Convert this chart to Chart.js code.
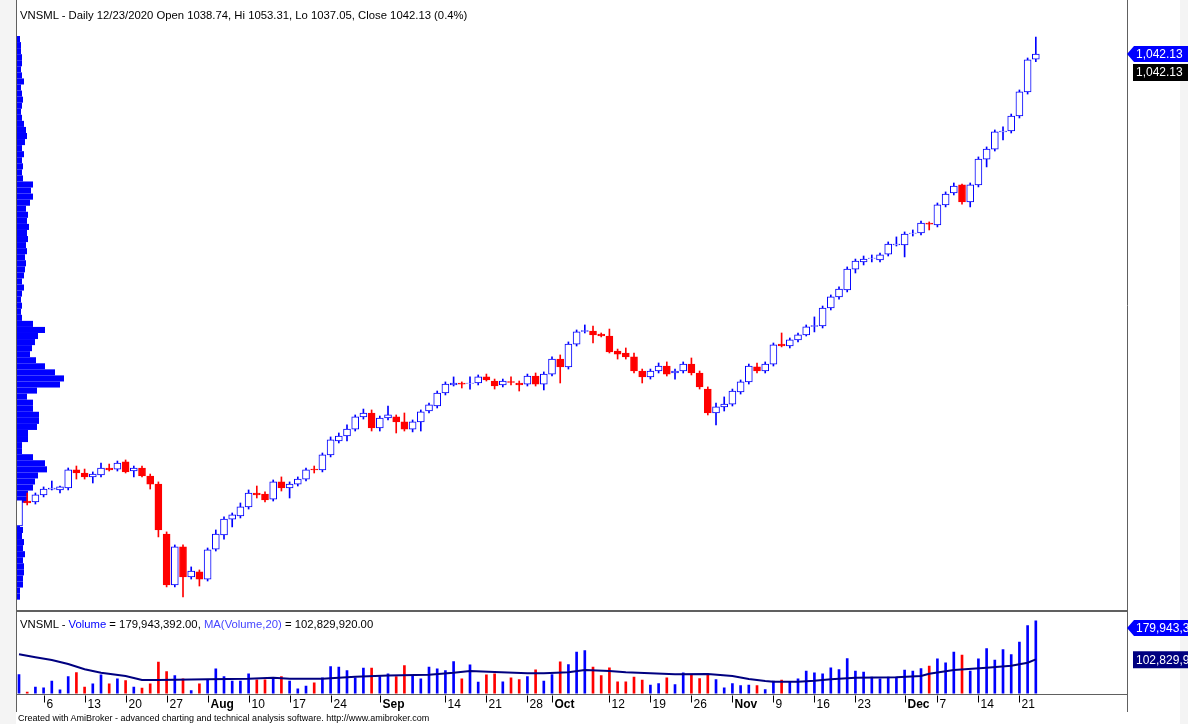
<!DOCTYPE html>
<html>
<head>
<meta charset="utf-8">
<script src="https://cdn.jsdelivr.net/npm/chart.js@4.4.0/dist/chart.umd.min.js"></script>
<style>
  body { margin: 0; background: #f4f4f4; font-family: "Liberation Sans", Arial, sans-serif; }
  #page { position: relative; width: 1188px; height: 724px; overflow: hidden; }
  #sheet { position: absolute; left: 16px; top: 0; width: 1164px; height: 724px; background: #fff; }
  canvas { position: absolute; left: 0; }
  #priceChart { top: 0; }
  #volChart { top: 611px; }
  .txt { position: absolute; font-size: 11.3px; line-height: 14px; color: #000; white-space: nowrap; }
</style>
</head>
<body>
<div id="page">
  <div id="sheet"></div>
  <canvas id="priceChart" width="1188" height="611"></canvas>
  <canvas id="volChart" width="1188" height="113"></canvas>
  <div class="txt" style="left:20px;top:8px">VNSML - Daily 12/23/2020 Open 1038.74, Hi 1053.31, Lo 1037.05, Close 1042.13 (0.4%)</div>
  <div class="txt" style="left:20px;top:617px">VNSML - <span style="color:#0000ff">Volume</span> = 179,943,392.00, <span style="color:#4646ff">MA(Volume,20)</span> = 102,829,920.00</div>
  <div class="txt" style="left:18px;top:712px;font-size:9px;line-height:12px">Created with AmiBroker - advanced charting and technical analysis software. http://www.amibroker.com</div>
</div>
<script>
// trading days Jul 1 .. Dec 23 2020, index 0..124
// axis labels (trading-day index -> text)
const tickPos  = [3, 8, 13, 18, 23, 28, 33, 38, 44, 52, 57, 62, 65, 72, 77, 82, 87, 92, 97, 102, 108, 112, 117, 122];
const tickText = ['6', '13', '20', '27', 'Aug', '10', '17', '24', 'Sep', '14', '21', '28', 'Oct', '12', '19', '26', 'Nov', '9', '16', '23', 'Dec', '7', '14', '21'];

const opens = [
  730.6, 747.1, 746.5, 751.1, 755.0, 754.4, 755.7, 767.6, 765.6, 763.0,
  764.3, 768.9, 768.2, 772.9, 766.9, 768.9, 763.6, 758.3, 725.3, 691.7,
  716.8, 697.0, 700.3, 695.6, 715.4, 724.7, 735.2, 737.2, 743.2, 752.4,
  751.7, 748.4, 759.7, 755.7, 758.3, 761.6, 768.2, 767.6, 777.5, 786.7,
  790.0, 794.6, 802.6, 805.2, 795.3, 801.9, 802.6, 799.3, 794.6, 799.3,
  806.5, 809.8, 818.4, 823.7, 825.0, 824.7, 825.0, 829.0, 826.3, 823.7,
  826.0, 825.0, 824.3, 829.6, 824.3, 830.9, 840.8, 835.6, 850.7, 859.0,
  859.3, 857.3, 856.0, 846.1, 844.8, 842.2, 832.9, 829.0, 832.9, 836.2,
  831.6, 832.9, 837.5, 831.6, 821.0, 805.2, 809.2, 811.1, 819.1, 825.7,
  835.6, 832.9, 837.5, 850.7, 849.4, 853.4, 856.7, 862.3, 862.6, 874.5,
  881.8, 886.4, 900.2, 904.9, 907.2, 906.2, 910.1, 916.1, 916.1, 923.7,
  924.0, 930.6, 929.3, 942.5, 950.4, 955.7, 944.5, 955.7, 972.8, 979.4,
  990.7, 991.3, 1001.2, 1017.1, 1038.74
];
const highs = [
  749.1, 752.4, 752.4, 756.4, 760.3, 757.0, 768.9, 770.2, 768.2, 766.3,
  772.2, 771.5, 773.5, 774.2, 770.2, 770.2, 764.9, 759.7, 726.7, 718.1,
  718.1, 703.6, 701.6, 716.1, 728.0, 736.6, 739.2, 745.8, 754.4, 757.0,
  753.1, 761.0, 763.0, 759.7, 763.0, 768.9, 770.2, 778.8, 789.4, 792.0,
  797.3, 803.9, 807.8, 807.2, 803.2, 809.8, 803.9, 805.2, 800.6, 807.2,
  811.8, 819.7, 825.7, 829.0, 825.7, 829.0, 830.3, 830.9, 827.6, 827.6,
  829.0, 826.3, 830.9, 831.6, 832.3, 842.2, 843.5, 852.1, 860.0, 863.3,
  862.6, 858.0, 860.6, 847.4, 848.1, 844.8, 834.2, 834.2, 838.2, 838.9,
  834.2, 838.9, 841.5, 832.9, 822.4, 811.8, 815.8, 821.0, 827.0, 837.5,
  838.2, 838.9, 851.4, 858.0, 854.7, 858.0, 863.3, 868.6, 875.8, 883.1,
  888.4, 901.6, 906.8, 908.8, 909.5, 910.8, 918.1, 921.4, 924.7, 926.0,
  931.9, 931.3, 943.8, 951.1, 957.0, 956.3, 957.0, 974.2, 980.8, 992.0,
  994.0, 1002.5, 1018.4, 1039.5, 1053.31
];
const lows = [
  729.3, 744.5, 745.1, 749.8, 754.4, 752.4, 754.4, 761.6, 761.6, 759.0,
  763.0, 766.9, 766.9, 765.6, 763.0, 763.0, 755.0, 723.4, 690.4, 690.4,
  683.8, 695.6, 691.0, 694.3, 714.1, 722.0, 730.0, 735.9, 741.8, 749.1,
  746.5, 747.1, 753.7, 749.1, 757.0, 760.3, 765.6, 766.3, 776.2, 785.4,
  786.7, 793.3, 801.2, 793.3, 793.3, 800.6, 792.0, 793.3, 792.7, 793.3,
  805.2, 808.5, 817.1, 823.0, 821.7, 821.0, 823.7, 826.3, 821.0, 822.4,
  823.7, 819.7, 823.0, 823.0, 820.4, 829.6, 825.0, 834.2, 849.4, 858.0,
  851.4, 855.4, 844.8, 840.8, 840.8, 831.6, 825.0, 827.6, 831.6, 829.6,
  827.6, 831.6, 830.3, 821.0, 803.9, 797.3, 806.5, 809.8, 817.7, 824.3,
  831.6, 831.6, 836.2, 848.8, 848.1, 852.1, 856.0, 858.7, 861.3, 873.2,
  880.4, 885.1, 897.6, 902.9, 904.9, 904.9, 908.8, 915.4, 908.2, 922.0,
  922.7, 926.0, 928.0, 941.2, 949.1, 943.1, 941.2, 954.4, 967.6, 978.1,
  985.4, 990.0, 999.9, 1015.7, 1037.05
];
const closes = [
  747.8, 745.8, 751.1, 755.0, 755.7, 756.4, 767.6, 765.6, 763.0, 764.9,
  768.9, 767.6, 772.2, 766.3, 768.9, 763.6, 758.3, 728.0, 691.7, 716.8,
  697.0, 700.9, 695.6, 714.8, 725.3, 735.2, 737.9, 743.2, 752.4, 751.1,
  747.8, 759.7, 755.7, 758.3, 761.6, 767.6, 767.6, 777.5, 787.4, 790.0,
  794.6, 802.6, 805.2, 795.3, 801.9, 803.9, 799.3, 794.6, 799.3, 805.9,
  810.5, 818.4, 824.3, 825.0, 824.3, 825.0, 829.0, 827.0, 823.0, 826.3,
  825.3, 823.7, 829.6, 824.3, 830.9, 840.8, 835.6, 850.7, 858.7, 859.6,
  856.7, 856.0, 845.5, 844.1, 842.2, 832.9, 829.0, 832.9, 836.2, 830.9,
  832.9, 837.5, 831.6, 822.4, 805.2, 809.2, 811.1, 819.7, 825.7, 836.2,
  832.9, 837.5, 850.1, 849.4, 853.4, 856.7, 862.0, 862.9, 874.5, 881.8,
  887.0, 900.2, 905.5, 906.8, 907.5, 909.5, 916.7, 916.7, 923.3, 924.0,
  930.6, 929.9, 942.5, 949.7, 955.0, 944.5, 955.7, 972.8, 979.4, 990.7,
  991.3, 1001.2, 1017.1, 1038.2, 1042.13
];

// volume, millions of shares
const volumes = [
  72.5, 37.1, 47.1, 45.9, 59.1, 41.9, 68.5, 76.5, 47.1, 53.9,
  71.9, 53.9, 63.9, 60.5, 47.1, 45.1, 53.9, 97.1, 78.5, 70.5,
  63.9, 40.5, 53.9, 61.9, 83.9, 68.5, 59.1, 59.1, 73.9, 61.9,
  61.9, 65.9, 68.5, 59.1, 43.9, 49.1, 55.9, 65.9, 88.5, 87.1,
  80.5, 65.9, 85.1, 85.1, 68.5, 73.9, 68.5, 90.5, 70.5, 63.9,
  87.1, 83.9, 80.5, 98.5, 63.9, 91.9, 57.1, 71.9, 73.9, 57.9,
  65.9, 62.5, 68.5, 81.9, 59.5, 72.5, 97.9, 92.5, 117.1, 120.5,
  87.1, 70.5, 85.9, 57.9, 57.9, 67.1, 61.1, 51.1, 54.5, 65.9,
  52.5, 75.9, 71.1, 64.5, 73.9, 62.5, 45.9, 54.5, 50.5, 51.1,
  50.5, 42.5, 59.1, 61.1, 57.1, 63.9, 79.1, 75.9, 73.9, 85.9,
  82.5, 104.5, 79.1, 77.1, 67.1, 63.9, 67.1, 67.1, 81.1, 79.1,
  84.5, 89.1, 103.9, 95.9, 117.1, 111.1, 79.1, 103.9, 124.5, 101.1,
  122.5, 112.5, 137.1, 170.5, 179.943392
];

const maIdx = [0, 2, 4, 6, 8, 10, 13, 15, 17, 23, 28, 31, 33, 37, 41, 45, 50, 53, 55, 58,
  62, 64, 67, 69, 72, 74, 77, 80, 84, 87, 89, 91, 92, 95, 97, 99, 102, 107, 110, 111,
  114, 118, 121, 123, 124];
const maVal = [112.9, 106.9, 101.5, 93.5, 82.9, 76.1, 69.5, 61.5, 61.5, 62.9, 64.1, 66.1, 64.1, 64.1, 68.1, 70.5, 72.1, 76.1, 79.5, 77.5,
  74.9, 74.9, 76.9, 81.5, 79.5, 76.9, 74.9, 72.9, 73.5, 69.5, 63.5, 59.5, 58.1, 58.1, 60.1, 62.9, 66.1, 66.9, 69.5, 74.1,
  81.5, 86.1, 90.1, 96.1, 102.82992];

// volume-at-price profile (bin centre price, relative volume)
const vapPrice = [
  684, 688, 692, 696, 700, 704, 708, 712, 716, 720,
  724, 728, 732, 736, 740, 744, 748, 752, 756, 760,
  764, 768, 772, 776, 780, 784, 788, 792, 796, 800,
  804, 808, 812, 816, 820, 824, 828, 832, 836, 840,
  844, 848, 852, 856, 860, 864, 868, 872, 876, 880,
  884, 888, 892, 896, 900, 904, 908, 912, 916, 920,
  924, 928, 932, 936, 940, 944, 948, 952, 956, 960,
  964, 968, 972, 976, 980, 984, 988, 992, 996, 1000,
  1004, 1008, 1012, 1016, 1020, 1024, 1028, 1032, 1036, 1040,
  1044, 1048, 1052
];
const vapVolume = [
  4, 4, 7, 7, 8, 8, 7, 9, 7, 8,
  6, 7, 4, 5, 5, 6, 12, 12, 17, 19,
  22, 31, 29, 17, 6, 6, 12, 12, 21, 23,
  23, 17, 17, 11, 21, 44, 48, 39, 29, 20,
  14, 16, 19, 22, 29, 17, 6, 5, 6, 5,
  6, 8, 6, 8, 9, 10, 9, 11, 10, 12,
  11, 13, 11, 12, 10, 14, 17, 15, 17, 7,
  6, 7, 6, 8, 6, 9, 11, 10, 8, 6,
  5, 6, 7, 6, 5, 8, 6, 5, 6, 6,
  5, 5, 4
];

const lastClose = 1042.13;
const lastVolume = 179.943392;
const lastMA = 102.82992;

const UP = '#0000ff';
const DOWN = '#ff0000';
const FONT = '"Liberation Sans", Arial, sans-serif';
const isUp = i => closes[i] >= opens[i];

const candleBodies = opens.map((o, i) => ({ x: i, y: [o, closes[i]] }));
const candleWicks = lows.map((l, i) => ({ x: i, y: [l, highs[i]] }));
const volBars = volumes.map((v, i) => ({ x: i, y: v }));
const maLine = maIdx.map((x, k) => ({ x: x, y: maVal[k] }));

const X_MIN = -0.366, X_MAX = 135.12;

function drawTag(ctx, x, y, text, bg, arrow) {
  ctx.save();
  ctx.fillStyle = bg;
  ctx.beginPath();
  if (arrow) {
    ctx.moveTo(x, y);
    ctx.lineTo(x + 7, y - 8);
    ctx.lineTo(1188, y - 8);
    ctx.lineTo(1188, y + 8);
    ctx.lineTo(x + 7, y + 8);
    ctx.closePath();
  } else {
    ctx.rect(x + 6, y - 8, 1188 - x - 6, 17);
  }
  ctx.fill();
  ctx.fillStyle = '#ffffff';
  ctx.font = '12px ' + FONT;
  ctx.textBaseline = 'middle';
  ctx.fillText(text, x + 9, y + 1);
  ctx.restore();
}

// profile, frame and value tags of the price pane
const pricePane = {
  id: 'pricePane',
  beforeDatasetsDraw(chart) {
    const ctx = chart.ctx, y = chart.scales.y, vx = chart.scales.vapX;
    ctx.save();
    ctx.fillStyle = '#0000ff';
    vapPrice.forEach((p, k) => {
      const top = y.getPixelForValue(p + 2), bot = y.getPixelForValue(p - 2);
      const x0 = vx.getPixelForValue(0), x1 = vx.getPixelForValue(vapVolume[k]);
      ctx.fillRect(x0, top, x1 - x0, bot - top);
    });
    ctx.restore();
  },
  afterDraw(chart) {
    const ctx = chart.ctx;
    ctx.save();
    ctx.strokeStyle = '#606060';
    ctx.lineWidth = 1;
    ctx.beginPath();
    ctx.moveTo(16.5, 0); ctx.lineTo(16.5, 611);
    ctx.moveTo(1127.5, 0); ctx.lineTo(1127.5, 611);
    ctx.moveTo(16, 610.5); ctx.lineTo(1128, 610.5);
    ctx.stroke();
    ctx.restore();
    const yc = chart.scales.y.getPixelForValue(lastClose);
    drawTag(ctx, 1127, yc, '1,042.13', '#0000ff', true);
    drawTag(ctx, 1127, yc + 18, '1,042.13', '#000000', false);
  }
};

// frame, date axis and value tags of the volume pane
const volPane = {
  id: 'volPane',
  afterDraw(chart) {
    const ctx = chart.ctx, a = chart.chartArea, xs = chart.scales.x, ys = chart.scales.y;
    const axisY = Math.round(a.bottom) + 0.5;
    ctx.save();
    ctx.strokeStyle = '#606060';
    ctx.lineWidth = 1;
    ctx.beginPath();
    ctx.moveTo(16, 0.5); ctx.lineTo(1128, 0.5);
    ctx.moveTo(16.5, 0); ctx.lineTo(16.5, 101);
    ctx.moveTo(1127.5, 0); ctx.lineTo(1127.5, 101);
    ctx.moveTo(16, axisY); ctx.lineTo(1128, axisY);
    ctx.stroke();
    ctx.strokeStyle = '#000000';
    ctx.fillStyle = '#000000';
    ctx.textBaseline = 'middle';
    tickPos.forEach((p, k) => {
      const px = Math.round(xs.getPixelForValue(p)) + 0.5;
      ctx.beginPath();
      ctx.moveTo(px, axisY + 1); ctx.lineTo(px, axisY + 8);
      ctx.stroke();
      const month = /^[A-Z]/.test(tickText[k]);
      ctx.font = (month ? 'bold ' : '') + '12px ' + FONT;
      ctx.fillText(tickText[k], px + 2, axisY + 10);
    });
    ctx.restore();
    const yv = Math.max(ys.getPixelForValue(lastVolume), a.top + 16);
    drawTag(ctx, 1127, yv, '179,943,392.00', '#0000ff', true);
    drawTag(ctx, 1127, ys.getPixelForValue(lastMA), '102,829,920.00', '#000080', false);
  }
};

new Chart(document.getElementById('priceChart'), {
  type: 'bar',
  data: {
    datasets: [
      {
        label: 'body',
        data: candleBodies,
        grouped: false,
        order: 0,
        barThickness: 7,
        borderWidth: 1,
        borderSkipped: false,
        backgroundColor: c => isUp(c.dataIndex) ? '#ffffff' : DOWN,
        borderColor: c => isUp(c.dataIndex) ? UP : DOWN
      },
      {
        label: 'wick',
        data: candleWicks,
        grouped: false,
        order: 1,
        barThickness: 1,
        borderWidth: 0,
        backgroundColor: c => isUp(c.dataIndex) ? UP : DOWN
      }
    ]
  },
  options: {
    responsive: false,
    animation: false,
    events: [],
    layout: { padding: { left: 16, right: 61, top: 2, bottom: 1 } },
    scales: {
      x: { type: 'linear', min: X_MIN, max: X_MAX, offset: false, display: false },
      y: { min: 675.17, max: 1076.45, display: false },
      vapX: { type: 'linear', axis: 'x', min: 0, max: 1111, offset: false, display: false }
    },
    plugins: { legend: { display: false }, tooltip: { enabled: false } }
  },
  plugins: [pricePane]
});

new Chart(document.getElementById('volChart'), {
  type: 'bar',
  data: {
    datasets: [
      {
        type: 'line',
        label: 'MA(Volume,20)',
        data: maLine,
        order: 0,
        borderColor: '#000080',
        borderWidth: 2,
        pointRadius: 0,
        tension: 0
      },
      {
        label: 'Volume',
        data: volBars,
        order: 1,
        grouped: false,
        barThickness: 2,
        borderWidth: 0,
        backgroundColor: c => isUp(c.dataIndex) ? UP : DOWN
      }
    ]
  },
  options: {
    responsive: false,
    animation: false,
    events: [],
    layout: { padding: { left: 16, right: 61, top: 1, bottom: 30.5 } },
    scales: {
      x: { type: 'linear', min: X_MIN, max: X_MAX, offset: false, display: false },
      y: { min: 34.5, max: 197.5, display: false }
    },
    plugins: { legend: { display: false }, tooltip: { enabled: false } }
  },
  plugins: [volPane]
});
</script>
</body>
</html>
